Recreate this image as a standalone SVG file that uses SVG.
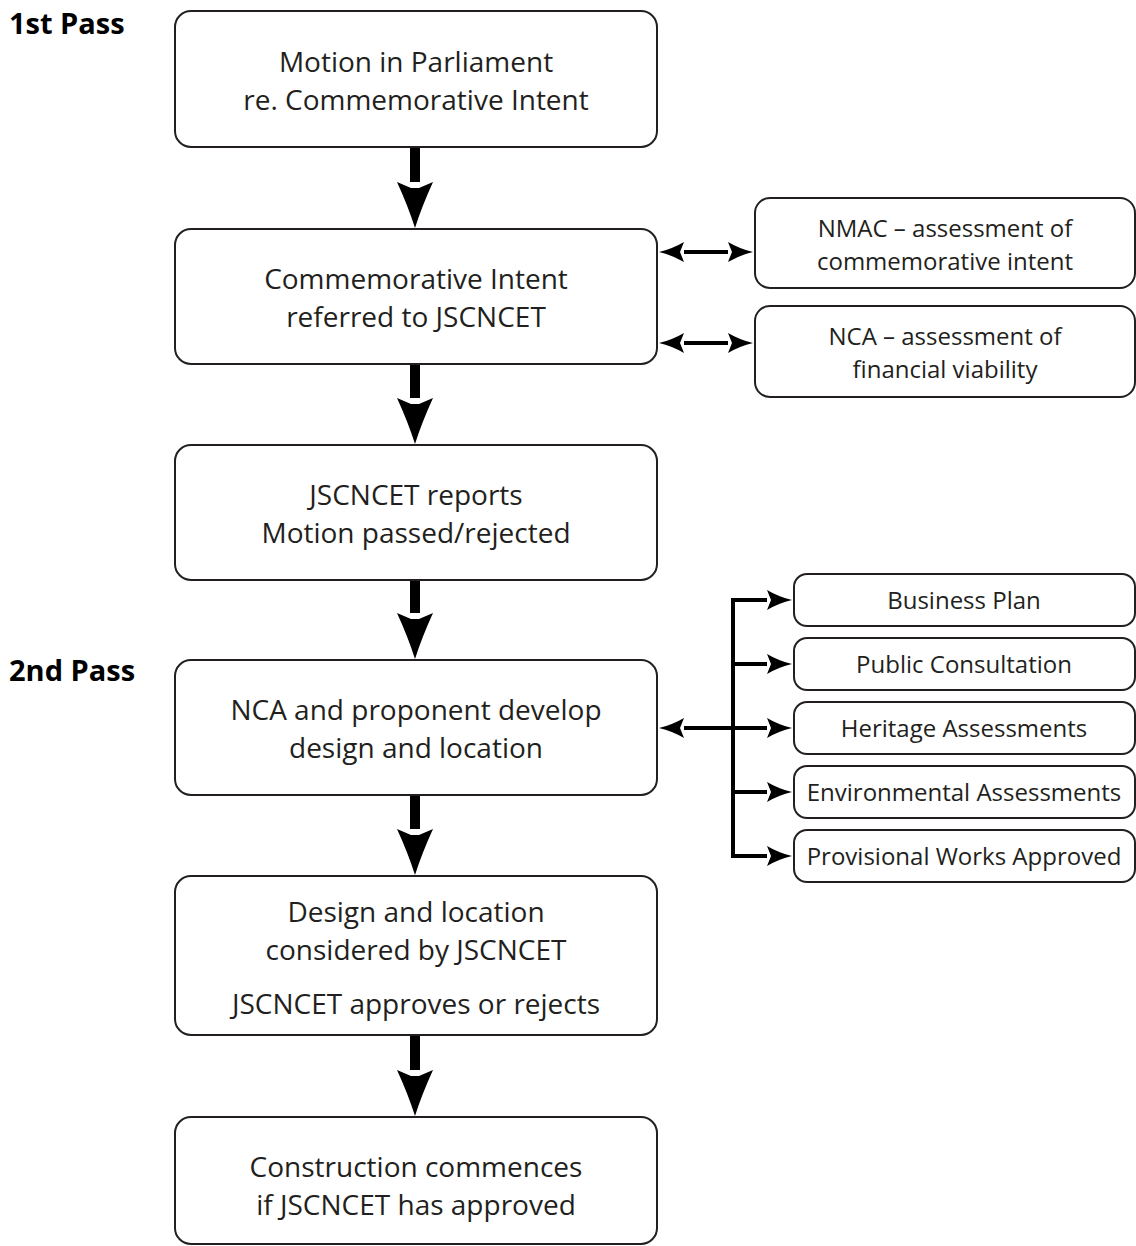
<svg xmlns="http://www.w3.org/2000/svg" width="1136" height="1246" viewBox="0 0 1136 1246">
<style>
.box{fill:#fff;stroke:#231f20;stroke-width:2}
.t{font-family:"Open Sans","Noto Sans",sans-serif;font-size:28px;fill:#231f20;text-anchor:middle}
.s{font-family:"Open Sans","Noto Sans",sans-serif;font-size:24px;fill:#231f20;text-anchor:middle}
.lbl{font-family:"Open Sans","Noto Sans",sans-serif;font-size:29px;font-weight:bold;fill:#000}
.thick{stroke:#000;stroke-width:10;fill:none;marker-end:url(#big)}
.thin{stroke:#000;stroke-width:4;fill:none;marker-end:url(#small)}
.dbl{stroke:#000;stroke-width:4;fill:none;marker-end:url(#small);marker-start:url(#small)}
</style>
<defs>
<marker id="big" viewBox="0 0 46 36" refX="0" refY="18" markerWidth="46" markerHeight="36" markerUnits="userSpaceOnUse" orient="auto">
<path d="M0,0 L6,14 L6,22 L0,36 Q24,25 46,18 Q24,11 0,0 Z" fill="#000"/>
</marker>
<marker id="small" viewBox="0 0 25 20" refX="0" refY="10" markerWidth="25" markerHeight="20" markerUnits="userSpaceOnUse" orient="auto-start-reverse">
<path d="M0,0 L4,10 L0,20 Q12,13 25,10 Q12,7 0,0 Z" fill="#000"/>
</marker>
</defs>
<rect width="1136" height="1246" fill="#fff"/>

<text class="lbl" x="9" y="34">1st Pass</text>
<text class="lbl" x="9" y="681">2nd Pass</text>

<g id="connectors">
<line class="thick" x1="415" y1="147" x2="415" y2="182"/>
<line class="thick" x1="415" y1="364" x2="415" y2="398"/>
<line class="thick" x1="415" y1="580" x2="415" y2="613"/>
<line class="thick" x1="415" y1="795" x2="415" y2="829"/>
<line class="thick" x1="415" y1="1035" x2="415" y2="1070"/>
<line class="dbl" x1="684" y1="252" x2="728" y2="252"/>
<line class="dbl" x1="684" y1="343" x2="728" y2="343"/>
<line stroke="#000" stroke-width="4" stroke-linecap="square" x1="733" y1="600" x2="733" y2="856"/>
<line class="thin" x1="733" y1="728" x2="684" y2="728"/>
<line class="thin" x1="733" y1="600" x2="767" y2="600"/>
<line class="thin" x1="733" y1="664" x2="767" y2="664"/>
<line class="thin" x1="733" y1="728" x2="767" y2="728"/>
<line class="thin" x1="733" y1="792" x2="767" y2="792"/>
<line class="thin" x1="733" y1="856" x2="767" y2="856"/>
</g>

<g id="n1"><rect class="box" x="175" y="11" width="482" height="136" rx="16"/>
<text class="t" x="416" y="72">Motion in Parliament</text>
<text class="t" x="416" y="110">re. Commemorative Intent</text></g>

<g id="n2"><rect class="box" x="175" y="229" width="482" height="135" rx="16"/>
<text class="t" x="416" y="289">Commemorative Intent</text>
<text class="t" x="416" y="327">referred to JSCNCET</text></g>

<g id="n3"><rect class="box" x="175" y="445" width="482" height="135" rx="16"/>
<text class="t" x="416" y="505">JSCNCET reports</text>
<text class="t" x="416" y="543">Motion passed/rejected</text></g>

<g id="n4"><rect class="box" x="175" y="660" width="482" height="135" rx="16"/>
<text class="t" x="416" y="720">NCA and proponent develop</text>
<text class="t" x="416" y="758">design and location</text></g>

<g id="n5"><rect class="box" x="175" y="876" width="482" height="159" rx="16"/>
<text class="t" x="416" y="922">Design and location</text>
<text class="t" x="416" y="960">considered by JSCNCET</text>
<text class="t" x="416" y="1014">JSCNCET approves or rejects</text></g>

<g id="n6"><rect class="box" x="175" y="1117" width="482" height="127" rx="16"/>
<text class="t" x="416" y="1177">Construction commences</text>
<text class="t" x="416" y="1215">if JSCNCET has approved</text></g>

<g id="nmac"><rect class="box" x="755" y="198" width="380" height="90" rx="15"/>
<text class="s" x="945" y="237">NMAC – assessment of</text>
<text class="s" x="945" y="270">commemorative intent</text></g>

<g id="nca"><rect class="box" x="755" y="306" width="380" height="91" rx="15"/>
<text class="s" x="945" y="345">NCA – assessment of</text>
<text class="s" x="945" y="378">financial viability</text></g>

<g id="b1"><rect class="box" x="794" y="574" width="341" height="52" rx="13"/>
<text class="s" x="964" y="609">Business Plan</text></g>
<g id="b2"><rect class="box" x="794" y="638" width="341" height="52" rx="13"/>
<text class="s" x="964" y="673">Public Consultation</text></g>
<g id="b3"><rect class="box" x="794" y="702" width="341" height="52" rx="13"/>
<text class="s" x="964" y="737">Heritage Assessments</text></g>
<g id="b4"><rect class="box" x="794" y="766" width="341" height="52" rx="13"/>
<text class="s" x="964" y="801">Environmental Assessments</text></g>
<g id="b5"><rect class="box" x="794" y="830" width="341" height="52" rx="13"/>
<text class="s" x="964" y="865">Provisional Works Approved</text></g>
</svg>
